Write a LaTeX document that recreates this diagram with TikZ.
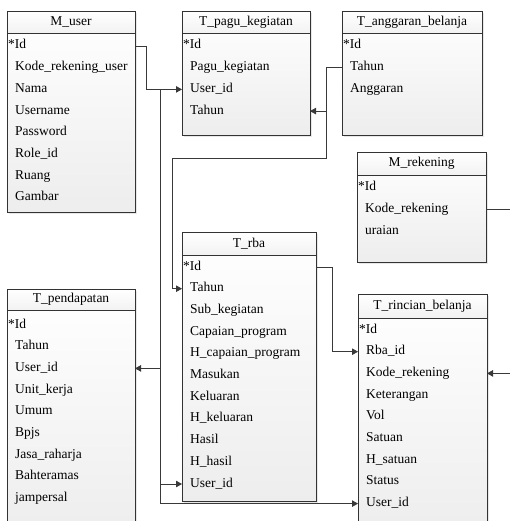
\documentclass[tikz,border=0pt]{standalone}
\usepackage{fontspec}
\setmainfont{Liberation Serif}
\newfontfamily\tabfont{Liberation Serif}
\usepackage{tikz}
\usetikzlibrary{arrows.meta, shadows}

\tikzset{
    tabbox/.style={draw=gray!40!black, line width=0.7pt, anchor=north west, inner sep=0pt, outer sep=0pt,
        top color=white, bottom color=gray!14, drop shadow={shadow xshift=2pt, shadow yshift=-2pt, fill=gray!35}},
    tabhead/.style={draw=gray!40!black, line width=0.7pt, anchor=north west, inner sep=0pt, outer sep=0pt,
        top color=white, bottom color=gray!10, font=\tabfont\fontsize{13.5}{16}\selectfont},
    rowtxt/.style={anchor=west, inner sep=0pt, text height=9pt, text depth=3pt, font=\tabfont\fontsize{13.5}{16}\selectfont},
    conn/.style={draw=gray!45!black, line width=0.8pt, -{Triangle[length=6pt,width=6.5pt]}}
}

% #1 name, #2 title, #3 left, #4 top, #5 width, #6 height, #7 head height, #8 first row, #9 rows
\newcommand{\tabel}[9]{%
    \node[tabbox, minimum width=#5pt, minimum height=#6pt] (#1) at (#3,#4) {};
    \node[tabhead, minimum width=#5pt, minimum height=#7pt] (#1-h) at (#3,#4) {#2};
    \node[rowtxt] (#1-0) at (#3+1,#8) {*Id};
    \foreach \r [count=\i] in {#9}
        \node[rowtxt] (#1-\i) at (#3+8,#8+\i*21.7) {\r};
}

\begin{document}
\begin{tikzpicture}[x=1pt, y=-1pt]
\useasboundingbox (0,0) rectangle (509,521);

\tabel{muser}{M\_user}{7}{11}{128}{201}{22}{46}{Kode\_rekening\_user, Nama, Username, Password, Role\_id, Ruang, Gambar}
\tabel{pagu}{T\_pagu\_kegiatan}{182}{11}{128}{124}{22}{46}{Pagu\_kegiatan, User\_id, Tahun}
\tabel{anggaran}{T\_anggaran\_belanja}{342}{11}{140}{124}{22}{46}{Tahun, Anggaran}
\tabel{rekening}{M\_rekening}{357}{152}{129}{110}{23}{188}{Kode\_rekening, uraian}
\tabel{rba}{T\_rba}{182}{232}{134}{269}{23}{267}{Tahun, Sub\_kegiatan, Capaian\_program, H\_capaian\_program, Masukan, Keluaran, H\_keluaran, Hasil, H\_hasil, User\_id}
\tabel{pendapatan}{T\_pendapatan}{7}{289}{128}{245}{21}{325}{Tahun, User\_id, Unit\_kerja, Umum, Bpjs, Jasa\_raharja, Bahteramas, jampersal}
\tabel{rincian}{T\_rincian\_belanja}{358}{294}{129}{240}{24}{330}{Rba\_id, Kode\_rekening, Keterangan, Vol, Satuan, H\_satuan, Status, User\_id}

% user id
\draw[conn] (muser-0 -| muser.east) -- ++(11,0) |- (pagu-2 -| pagu.west);
\coordinate (utop) at ([xshift=-22pt]pagu-2 -| pagu.west);
\draw[conn] (utop) |- (rincian-8 -| rincian.west);
\draw[conn] (utop |- pendapatan-2) -- (pendapatan-2 -| pendapatan.east);
\draw[conn] (utop |- rba-10) -- (rba-10 -| rba.west);

% tahun
\coordinate (atop) at ([xshift=-16pt]anggaran-1 -| anggaran.west);
\coordinate (abot) at (atop |- 0,158);
\draw[conn] (anggaran-1 -| anggaran.west) -- (atop) -- (abot) -| ([xshift=-10pt]rba-1 -| rba.west) -- (rba-1 -| rba.west);
\draw[conn] (atop |- pagu-3) -- (pagu-3 -| pagu.east);

% rba, rekening
\draw[conn] (rba-0 -| rba.east) -- ++(16,0) |- (rincian-1 -| rincian.west);
\draw[conn] (rekening-1 -| rekening.east) -- ++(24,0) |- (rincian-2 -| rincian.east);
\end{tikzpicture}
\end{document}
